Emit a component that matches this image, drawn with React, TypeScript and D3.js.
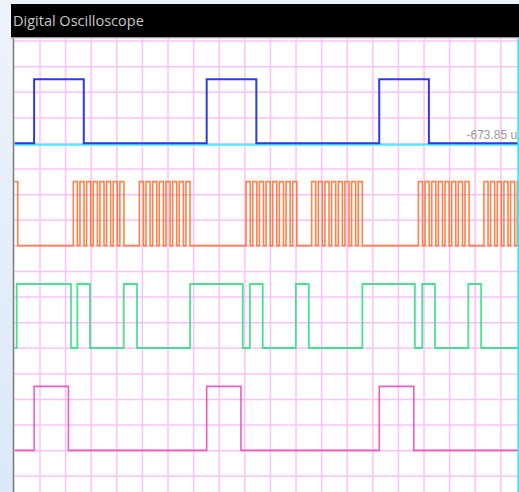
import React from "react";
import * as d3 from "d3";

// Time in µs (10 µs per division), levels 0/1
const timeDomain: [number, number] = [0, 196.7];
const titleText = "Digital Oscilloscope";
const cursorLabel = "-673.85 us";

const blueHigh: [number, number][] = [[7.7, 27.1], [75.1, 94.5], [142.5, 161.9]];
const orangeHigh: [number, number][] = [
  [-1.0, 1.3],
  [23.0, 24.6], [25.6, 27.2], [28.2, 29.8], [30.8, 32.4], [33.4, 35.0], [36.0, 37.6], [38.6, 40.2], [41.2, 42.8],
  [48.8, 50.4], [51.4, 53.0], [54.0, 55.6], [56.6, 58.2], [59.2, 60.8], [61.8, 63.4], [64.4, 66.0], [67.0, 68.6],
  [90.5, 92.1], [93.1, 94.7], [95.7, 97.3], [98.3, 99.9], [100.9, 102.5], [103.5, 105.1], [106.1, 107.7], [108.7, 110.3],
  [116.1, 117.7], [118.7, 120.3], [121.3, 122.9], [123.9, 125.5], [126.5, 128.1], [129.1, 130.7], [131.7, 133.3], [134.3, 135.9],
  [157.8, 159.4], [160.4, 162.0], [163.0, 164.6], [165.6, 167.2], [168.2, 169.8], [170.8, 172.4], [173.4, 175.0], [176.0, 177.6],
  [183.4, 185.0], [186.0, 187.6], [188.6, 190.2], [191.2, 192.8], [193.8, 195.4], [196.4, 198.0],
];
const greenHigh: [number, number][] = [
  [0.9, 22.1], [24.6, 29.5], [42.7, 47.9], [68.6, 89.2], [92.0, 97.0], [109.9, 115.0], [135.9, 156.4], [159.3, 164.3], [177.3, 182.3],
];
const pinkHigh: [number, number][] = [[7.7, 21.1], [75.1, 88.5], [142.5, 156.0]];

const channels = [
  { name: "D0", high: blueHigh, color: "#2b3be0", width: 2, opacity: 1 },
  { name: "D1", high: orangeHigh, color: "#ff6c2a", width: 1.6, opacity: 0.85 },
  { name: "D2", high: greenHigh, color: "#36de8a", width: 1.8, opacity: 0.9 },
  { name: "D3", high: pinkHigh, color: "#ee3fae", width: 1.6, opacity: 0.85 },
];

const W = 519;
const H = 492;
const plotLeft = 14.4;
const plotRight = 518;
const plotTop = 38.5;
const gridTop = 41.1;
const divPx = 25.6;

function stepPoints(high: [number, number][], t0: number, t1: number): [number, number][] {
  const pts: [number, number][] = [];
  let level = 0;
  if (high.length && high[0][0] <= t0) level = 1;
  pts.push([t0, level]);
  for (const [a, b] of high) {
    if (a > t0) {
      pts.push([a, 0]);
      pts.push([a, 1]);
    }
    pts.push([b, 1]);
    pts.push([b, 0]);
  }
  pts.push([t1 + 5, 0]);
  return pts;
}

export default function App() {
  const x = d3.scaleLinear().domain(timeDomain).range([plotLeft, plotRight]);
  // y in divisions from grid top
  const yDiv = d3.scaleLinear().domain([0, 1]).range([gridTop, gridTop + divPx]);
  const xTicks = d3.range(1, 20).map((i) => i * 10);
  const yTicks = d3.range(0, 18);

  return (
    <svg width={W} height={H} style={{ position: "absolute", left: 0, top: 0 }}>
      <defs>
        <clipPath id="plotClip">
          <rect x={plotLeft} y={plotTop} width={plotRight - plotLeft} height={H - plotTop} />
        </clipPath>
        <linearGradient id="side" x1="0" y1="0" x2="0" y2="1">
          <stop offset="0" stopColor="#eef3fb" />
          <stop offset="1" stopColor="#dce8f8" />
        </linearGradient>
      </defs>
      <rect x={0} y={0} width={W} height={H} fill="url(#side)" />
      <rect x={11} y={4} width={W - 11} height={33} fill="#000" />
      <text x={13} y={25.5} fill="#c8c8c8" fontFamily="'Open Sans', 'Noto Sans', sans-serif" fontSize={14.5}>
        {titleText}
      </text>
      <rect x={11} y={37} width={W - 11} height={1.5} fill="#9a9a9a" />
      <rect x={plotLeft} y={plotTop} width={plotRight - plotLeft} height={H - plotTop} fill="#fff" />
      <g clipPath="url(#plotClip)">
        {xTicks.map((t) => (
          <line key={"v" + t} x1={x(t)} x2={x(t)} y1={plotTop} y2={H} stroke="#ffc0fa" strokeWidth={1.5} />
        ))}
        {yTicks.map((d) => (
          <line key={"h" + d} x1={plotLeft} x2={plotRight} y1={yDiv(d)} y2={yDiv(d)} stroke="#ffc0fa" strokeWidth={1.5} />
        ))}
        <line x1={plotLeft} x2={plotRight} y1={yDiv(4) + 1.2} y2={yDiv(4) + 1.2} stroke="#4aeefa" strokeWidth={2} />
        <text x={466.5} y={139} fill="#9a9a9a" fontFamily="'Liberation Sans', Arial, sans-serif" fontSize={12}>
          {cursorLabel}
        </text>
        {channels.map((c, i) => {
          const base = 4 + 4 * i;
          const y = d3.scaleLinear().domain([0, 1]).range([yDiv(base) - 0.3, yDiv(base - 2.5) - 0.3]);
          const line = d3
            .line<[number, number]>()
            .x((d) => x(d[0]))
            .y((d) => y(d[1]));
          return (
            <path
              key={c.name}
              d={line(stepPoints(c.high, timeDomain[0], timeDomain[1])) || ""}
              fill="none"
              stroke={c.color}
              strokeWidth={c.width}
              strokeOpacity={c.opacity}
            />
          );
        })}
      </g>
      <line x1={13.5} x2={13.5} y1={plotTop} y2={H} stroke="#7c7c7c" strokeWidth={1.5} />
      <line x1={518.2} x2={518.2} y1={plotTop} y2={H} stroke="#3fe6f6" strokeWidth={1.8} />
    </svg>
  );
}
